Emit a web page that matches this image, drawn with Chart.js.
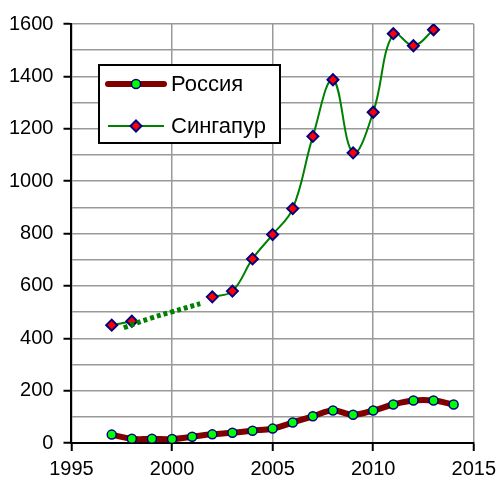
<!DOCTYPE html>
<html>
<head>
<meta charset="utf-8">
<script src="https://cdn.jsdelivr.net/npm/chart.js@4/dist/chart.umd.min.js"></script>
<style>
  html, body { margin: 0; padding: 0; background: #fff; }
  #wrap { width: 504px; height: 477px; }
</style>
</head>
<body>
<div id="wrap"><canvas id="chart"></canvas></div>
<script>
// values
const years = [1997, 1998, 1999, 2000, 2001, 2002, 2003, 2004, 2005, 2006, 2007, 2008, 2009, 2010, 2011, 2012, 2013, 2014];
const russia = [32, 16, 16, 15, 24, 33, 39, 47, 55, 78, 102, 124, 108, 124, 147, 162, 162, 147];
const singapore = [450, 465, null, null, null, 558, 580, 703, 796, 895, 1171, 1387, 1108, 1263, 1563, 1517, 1578, null];
// dotted trend segment (x = year, y = value)
const trendX = [1997.6, 1998.9, 2000, 2001.4];
const trendY = [440, 476, 501, 532];
const seriesNames = ['Россия', 'Сингапур'];

const FONT = 'Arial, "Liberation Sans", sans-serif';

function toPoints(xs, ys) {
  return xs.map((x, i) => ({ x: x, y: ys[i] }));
}

// legend box inside the plot, drawn by hand
const boxLegend = {
  id: 'boxLegend',
  afterDraw(chart) {
    const ctx = chart.ctx;
    const x0 = 99, y0 = 65, w = 181, h = 78;
    ctx.save();
    ctx.fillStyle = '#fff';
    ctx.fillRect(x0, y0, w, h);
    ctx.strokeStyle = '#000';
    ctx.lineWidth = 2;
    ctx.strokeRect(x0, y0, w, h);

    const rows = [
      { ds: chart.data.datasets[0], y: 84 },
      { ds: chart.data.datasets[1], y: 126 }
    ];
    rows.forEach((r, i) => {
      const ds = r.ds;
      ctx.strokeStyle = ds.borderColor;
      ctx.lineWidth = ds.borderWidth;
      ctx.lineCap = i === 0 ? 'round' : 'butt';
      ctx.beginPath();
      ctx.moveTo(108, r.y);
      ctx.lineTo(164, r.y);
      ctx.stroke();
      ctx.fillStyle = ds.pointBackgroundColor;
      ctx.strokeStyle = ds.pointBorderColor;
      ctx.lineWidth = ds.pointBorderWidth;
      ctx.beginPath();
      if (ds.pointStyle === 'circle') {
        ctx.arc(136, r.y, ds.pointRadius, 0, Math.PI * 2);
      } else {
        const rr = ds.pointRadius;
        ctx.moveTo(136, r.y - rr);
        ctx.lineTo(136 + rr, r.y);
        ctx.lineTo(136, r.y + rr);
        ctx.lineTo(136 - rr, r.y);
        ctx.closePath();
      }
      ctx.fill();
      ctx.stroke();
      ctx.fillStyle = '#000';
      ctx.font = '22px ' + FONT;
      ctx.textBaseline = 'middle';
      ctx.textAlign = 'left';
      ctx.fillText(seriesNames[i], 171, r.y + 1);
    });
    ctx.restore();
  }
};

new Chart(document.getElementById('chart'), {
  type: 'line',
  data: {
    datasets: [
      {
        label: seriesNames[0],
        data: toPoints(years, russia),
        borderColor: '#800000',
        borderWidth: 6,
        pointStyle: 'circle',
        pointRadius: 4.5,
        pointBackgroundColor: '#00ff00',
        pointBorderColor: '#000080',
        pointBorderWidth: 1.5,
        tension: 0.4,
        order: 2
      },
      {
        label: seriesNames[1],
        data: toPoints(years, singapore),
        borderColor: '#008000',
        borderWidth: 2,
        pointStyle: 'rectRot',
        pointRadius: 5.5,
        pointBackgroundColor: '#ff0000',
        pointBorderColor: '#000080',
        pointBorderWidth: 2,
        tension: 0.4,
        spanGaps: false,
        order: 1
      },
      {
        label: 'trend',
        data: toPoints(trendX, trendY),
        borderColor: '#008000',
        borderWidth: 5,
        borderDash: [4, 3],
        pointRadius: 0,
        tension: 0.4,
        order: 0
      }
    ]
  },
  options: {
    responsive: true,
    maintainAspectRatio: false,
    animation: false,
    layout: { padding: { left: -1, right: 25, top: 24, bottom: -10 } },
    plugins: {
      legend: { display: false },
      tooltip: { enabled: false }
    },
    scales: {
      x: {
        type: 'linear',
        min: 1995,
        max: 2015,
        ticks: {
          stepSize: 5,
          color: '#000',
          padding: 8,
          font: { family: FONT, size: 20, lineHeight: 1 },
          callback: v => String(v)
        },
        grid: {
          color: '#999',
          lineWidth: 1.5,
          tickColor: '#000',
          tickLength: 8,
          tickWidth: 2
        },
        border: { color: '#000', width: 2 }
      },
      y: {
        min: 0,
        max: 1600,
        ticks: {
          stepSize: 100,
          color: '#000',
          padding: 10,
          font: { family: FONT, size: 20, lineHeight: 1 },
          callback: v => (v % 200 === 0 ? String(v) : '')
        },
        grid: {
          color: '#999',
          lineWidth: 1.5,
          tickColor: c => (c.tick && c.tick.value % 200 === 0 ? '#000' : 'rgba(0,0,0,0)'),
          tickLength: 8,
          tickWidth: 2
        },
        border: { color: '#000', width: 2 }
      }
    }
  },
  plugins: [boxLegend]
});
</script>
</body>
</html>
